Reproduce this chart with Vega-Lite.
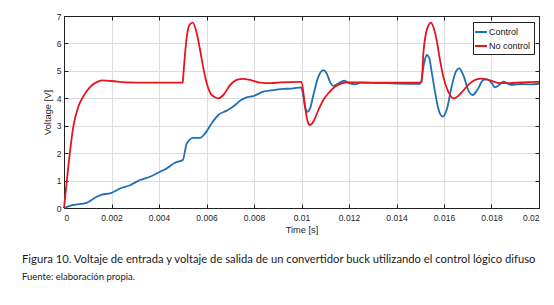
{
  "$schema": "https://vega.github.io/schema/vega-lite/v6.json",
  "width": 475,
  "height": 192,
  "autosize": {"type": "none"},
  "padding": {"left": 64, "top": 16, "right": 15, "bottom": 97},
  "background": "white",
  "title": {
    "text": "Figura 10. Voltaje de entrada y voltaje de salida de un convertidor buck utilizando el control lógico difuso",
    "subtitle": "Fuente: elaboración propia.",
    "orient": "bottom",
    "anchor": "start",
    "frame": "group",
    "dx": -42,
    "offset": 19,
    "font": "Lato",
    "fontSize": 11.25,
    "fontWeight": "normal",
    "color": "#1a1a1a",
    "subtitleFont": "Lato",
    "subtitleFontSize": 9.5,
    "subtitleColor": "#1a1a1a",
    "subtitlePadding": 7
  },
  "config": {
    "view": {"stroke": "#222", "strokeWidth": 1},
    "axis": {
      "labelFont": "Liberation Sans",
      "labelFontSize": 8.5,
      "labelColor": "#262626",
      "titleFont": "Liberation Sans",
      "titleFontSize": 9.3,
      "titleFontWeight": "normal",
      "titleColor": "#262626",
      "gridColor": "#dcdcdc",
      "gridWidth": 1,
      "domainColor": "#222",
      "tickColor": "#222",
      "tickSize": -4,
      "labelPadding": 7
    },
    "legend": {
      "labelFont": "Liberation Sans",
      "labelFontSize": 9,
      "labelColor": "#111"
    }
  },
  "data": {
    "values": [
      {"t": 0, "v": 0, "s": "Control"},
      {"t": 0.00039, "v": 0.11, "s": "Control"},
      {"t": 0.00095, "v": 0.19, "s": "Control"},
      {"t": 0.00138, "v": 0.41, "s": "Control"},
      {"t": 0.0016, "v": 0.49, "s": "Control"},
      {"t": 0.00194, "v": 0.53, "s": "Control"},
      {"t": 0.00236, "v": 0.71, "s": "Control"},
      {"t": 0.00278, "v": 0.83, "s": "Control"},
      {"t": 0.0032, "v": 1.02, "s": "Control"},
      {"t": 0.00362, "v": 1.14, "s": "Control"},
      {"t": 0.00404, "v": 1.32, "s": "Control"},
      {"t": 0.00432, "v": 1.44, "s": "Control"},
      {"t": 0.00467, "v": 1.65, "s": "Control"},
      {"t": 0.005, "v": 1.75, "s": "Control"},
      {"t": 0.00517, "v": 2.35, "s": "Control"},
      {"t": 0.00544, "v": 2.56, "s": "Control"},
      {"t": 0.00573, "v": 2.56, "s": "Control"},
      {"t": 0.00594, "v": 2.72, "s": "Control"},
      {"t": 0.00622, "v": 3.09, "s": "Control"},
      {"t": 0.0065, "v": 3.39, "s": "Control"},
      {"t": 0.00685, "v": 3.55, "s": "Control"},
      {"t": 0.00713, "v": 3.7, "s": "Control"},
      {"t": 0.00741, "v": 3.91, "s": "Control"},
      {"t": 0.00769, "v": 4.03, "s": "Control"},
      {"t": 0.00797, "v": 4.08, "s": "Control"},
      {"t": 0.00839, "v": 4.24, "s": "Control"},
      {"t": 0.00881, "v": 4.3, "s": "Control"},
      {"t": 0.00923, "v": 4.34, "s": "Control"},
      {"t": 0.00966, "v": 4.36, "s": "Control"},
      {"t": 0.00998, "v": 4.4, "s": "Control"},
      {"t": 0.01008, "v": 4.06, "s": "Control"},
      {"t": 0.01015, "v": 3.69, "s": "Control"},
      {"t": 0.01026, "v": 3.51, "s": "Control"},
      {"t": 0.01036, "v": 3.63, "s": "Control"},
      {"t": 0.0105, "v": 4.12, "s": "Control"},
      {"t": 0.01071, "v": 4.79, "s": "Control"},
      {"t": 0.01092, "v": 5.03, "s": "Control"},
      {"t": 0.01106, "v": 4.91, "s": "Control"},
      {"t": 0.0112, "v": 4.6, "s": "Control"},
      {"t": 0.01134, "v": 4.45, "s": "Control"},
      {"t": 0.01155, "v": 4.54, "s": "Control"},
      {"t": 0.0118, "v": 4.64, "s": "Control"},
      {"t": 0.01204, "v": 4.54, "s": "Control"},
      {"t": 0.01225, "v": 4.51, "s": "Control"},
      {"t": 0.0125, "v": 4.57, "s": "Control"},
      {"t": 0.0135, "v": 4.55, "s": "Control"},
      {"t": 0.0145, "v": 4.53, "s": "Control"},
      {"t": 0.015, "v": 4.53, "s": "Control"},
      {"t": 0.01516, "v": 5.27, "s": "Control"},
      {"t": 0.01527, "v": 5.58, "s": "Control"},
      {"t": 0.01538, "v": 5.46, "s": "Control"},
      {"t": 0.01548, "v": 4.97, "s": "Control"},
      {"t": 0.01562, "v": 4.24, "s": "Control"},
      {"t": 0.01576, "v": 3.63, "s": "Control"},
      {"t": 0.01594, "v": 3.33, "s": "Control"},
      {"t": 0.01611, "v": 3.57, "s": "Control"},
      {"t": 0.01632, "v": 4.42, "s": "Control"},
      {"t": 0.0165, "v": 4.97, "s": "Control"},
      {"t": 0.01664, "v": 5.09, "s": "Control"},
      {"t": 0.01681, "v": 4.85, "s": "Control"},
      {"t": 0.01702, "v": 4.3, "s": "Control"},
      {"t": 0.01721, "v": 4.12, "s": "Control"},
      {"t": 0.0174, "v": 4.3, "s": "Control"},
      {"t": 0.01766, "v": 4.67, "s": "Control"},
      {"t": 0.01783, "v": 4.69, "s": "Control"},
      {"t": 0.01801, "v": 4.55, "s": "Control"},
      {"t": 0.01815, "v": 4.4, "s": "Control"},
      {"t": 0.01833, "v": 4.49, "s": "Control"},
      {"t": 0.0185, "v": 4.61, "s": "Control"},
      {"t": 0.01871, "v": 4.52, "s": "Control"},
      {"t": 0.01892, "v": 4.49, "s": "Control"},
      {"t": 0.0192, "v": 4.52, "s": "Control"},
      {"t": 0.01962, "v": 4.51, "s": "Control"},
      {"t": 0.02, "v": 4.53, "s": "Control"},
      {"t": 0, "v": 0, "s": "No control"},
      {"t": 0.00018, "v": 1.5, "s": "No control"},
      {"t": 0.00039, "v": 2.96, "s": "No control"},
      {"t": 0.0006, "v": 3.69, "s": "No control"},
      {"t": 0.00081, "v": 4.06, "s": "No control"},
      {"t": 0.0011, "v": 4.42, "s": "No control"},
      {"t": 0.00145, "v": 4.62, "s": "No control"},
      {"t": 0.0016, "v": 4.65, "s": "No control"},
      {"t": 0.002, "v": 4.63, "s": "No control"},
      {"t": 0.0026, "v": 4.58, "s": "No control"},
      {"t": 0.0035, "v": 4.57, "s": "No control"},
      {"t": 0.005, "v": 4.57, "s": "No control"},
      {"t": 0.00502, "v": 4.79, "s": "No control"},
      {"t": 0.00517, "v": 6.25, "s": "No control"},
      {"t": 0.00528, "v": 6.67, "s": "No control"},
      {"t": 0.00542, "v": 6.76, "s": "No control"},
      {"t": 0.00559, "v": 6.37, "s": "No control"},
      {"t": 0.00573, "v": 5.76, "s": "No control"},
      {"t": 0.00587, "v": 5.09, "s": "No control"},
      {"t": 0.00601, "v": 4.55, "s": "No control"},
      {"t": 0.00622, "v": 4.12, "s": "No control"},
      {"t": 0.0065, "v": 4.0, "s": "No control"},
      {"t": 0.00671, "v": 4.12, "s": "No control"},
      {"t": 0.00699, "v": 4.48, "s": "No control"},
      {"t": 0.00727, "v": 4.67, "s": "No control"},
      {"t": 0.00755, "v": 4.71, "s": "No control"},
      {"t": 0.00783, "v": 4.67, "s": "No control"},
      {"t": 0.00825, "v": 4.57, "s": "No control"},
      {"t": 0.0087, "v": 4.55, "s": "No control"},
      {"t": 0.0091, "v": 4.58, "s": "No control"},
      {"t": 0.00995, "v": 4.6, "s": "No control"},
      {"t": 0.01, "v": 4.6, "s": "No control"},
      {"t": 0.01015, "v": 3.69, "s": "No control"},
      {"t": 0.01026, "v": 3.15, "s": "No control"},
      {"t": 0.01036, "v": 3.02, "s": "No control"},
      {"t": 0.0105, "v": 3.15, "s": "No control"},
      {"t": 0.01071, "v": 3.57, "s": "No control"},
      {"t": 0.01092, "v": 3.94, "s": "No control"},
      {"t": 0.01113, "v": 4.18, "s": "No control"},
      {"t": 0.01141, "v": 4.42, "s": "No control"},
      {"t": 0.01169, "v": 4.54, "s": "No control"},
      {"t": 0.01197, "v": 4.58, "s": "No control"},
      {"t": 0.013, "v": 4.57, "s": "No control"},
      {"t": 0.015, "v": 4.57, "s": "No control"},
      {"t": 0.01506, "v": 4.6, "s": "No control"},
      {"t": 0.01513, "v": 5.64, "s": "No control"},
      {"t": 0.01524, "v": 6.37, "s": "No control"},
      {"t": 0.01535, "v": 6.67, "s": "No control"},
      {"t": 0.01544, "v": 6.76, "s": "No control"},
      {"t": 0.01555, "v": 6.61, "s": "No control"},
      {"t": 0.01569, "v": 6.12, "s": "No control"},
      {"t": 0.01583, "v": 5.4, "s": "No control"},
      {"t": 0.01597, "v": 4.79, "s": "No control"},
      {"t": 0.01618, "v": 4.24, "s": "No control"},
      {"t": 0.01639, "v": 4.0, "s": "No control"},
      {"t": 0.01653, "v": 4.04, "s": "No control"},
      {"t": 0.01674, "v": 4.21, "s": "No control"},
      {"t": 0.01702, "v": 4.49, "s": "No control"},
      {"t": 0.01731, "v": 4.67, "s": "No control"},
      {"t": 0.01759, "v": 4.72, "s": "No control"},
      {"t": 0.01794, "v": 4.65, "s": "No control"},
      {"t": 0.01836, "v": 4.55, "s": "No control"},
      {"t": 0.01878, "v": 4.55, "s": "No control"},
      {"t": 0.0192, "v": 4.58, "s": "No control"},
      {"t": 0.02, "v": 4.6, "s": "No control"}
    ]
  },
  "layer": [
    {
      "mark": {"type": "line", "interpolate": "monotone", "strokeWidth": 1.8},
      "encoding": {
        "x": {
          "field": "t", "type": "quantitative",
          "scale": {"domain": [0, 0.02], "nice": false, "zero": false},
          "axis": {
            "title": "Time [s]",
            "values": [0, 0.002, 0.004, 0.006, 0.008, 0.01, 0.012, 0.014, 0.016, 0.018, 0.02],
            "format": "~g",
            "labelPadding": 9,
            "titlePadding": 4
          }
        },
        "y": {
          "field": "v", "type": "quantitative",
          "scale": {"domain": [0, 7], "nice": false},
          "axis": {
            "title": "Voltage [V]",
            "values": [0, 1, 2, 3, 4, 5, 6, 7],
            "labelPadding": 7,
            "titlePadding": 4
          }
        },
        "color": {
          "field": "s", "type": "nominal",
          "scale": {"domain": ["Control", "No control"], "range": ["#1f6fb4", "#e8141b"]},
          "legend": {
            "title": null,
            "orient": "none",
            "legendX": 409,
            "legendY": 6,
            "strokeColor": "#222",
            "fillColor": "white",
            "padding": 3,
            "symbolType": "stroke",
            "symbolSize": 144,
            "symbolStrokeWidth": 2,
            "symbolOffset": -2,
            "labelOffset": 1,
            "rowPadding": 2,
            "cornerRadius": 0
          }
        }
      }
    },
    {
      "mark": {"type": "line", "opacity": 0},
      "encoding": {
        "x": {
          "field": "t", "type": "quantitative",
          "axis": {"orient": "top", "title": null, "labels": false, "grid": false, "values": [0, 0.002, 0.004, 0.006, 0.008, 0.01, 0.012, 0.014, 0.016, 0.018, 0.02]}
        },
        "y": {
          "field": "v", "type": "quantitative",
          "axis": {"orient": "right", "title": null, "labels": false, "grid": false, "values": [0, 1, 2, 3, 4, 5, 6, 7]}
        },
        "detail": {"field": "s"}
      }
    }
  ],
  "resolve": {"axis": {"x": "independent", "y": "independent"}}
}
